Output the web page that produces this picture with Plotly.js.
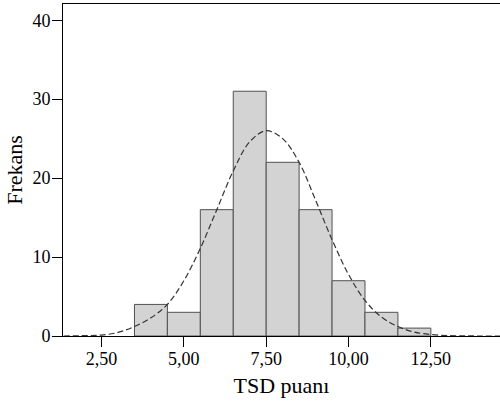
<!DOCTYPE html>
<html>
<head>
<meta charset="utf-8">
<script src="https://cdn.plot.ly/plotly-3.0.1.min.js"></script>
<style>html,body{margin:0;padding:0;background:#fff;}#chart{width:500px;height:408px;}</style>
</head>
<body>
<div id="chart"></div>
<script>
// Histogram bins (centres) and frequencies
const binCenters = [4, 5, 6, 7, 8, 9, 10, 11, 12];
const frequencies = [4, 3, 16, 31, 22, 16, 7, 3, 1];

// Fitted normal curve
const curveX = [1.35, 2.0, 2.5, 3.0, 3.5, 4.0, 4.5, 5.0, 5.5, 6.0, 6.5, 7.0, 7.5, 8.0, 8.5, 9.0, 9.5, 10.0, 10.5, 11.0, 11.5, 12.0, 12.5, 13.0, 13.5, 14.0, 14.6];
const curveY = [0.0, 0.05, 0.12, 0.45, 1.2, 2.3, 4.0, 7.0, 11.1, 16.0, 20.9, 24.6, 26.0, 25.0, 22.0, 17.2, 12.2, 7.8, 4.5, 2.4, 1.2, 0.5, 0.18, 0.06, 0.02, 0.0, 0.0];

const xTickVals = [2.5, 5, 7.5, 10, 12.5];
const xTickText = ["2,50", "5,00", "7,50", "10,00", "12,50"];
const yTickVals = [0, 10, 20, 30, 40];

const font = "'Liberation Serif', 'Times New Roman', 'DejaVu Serif', serif";

const traces = [
  {
    type: "bar",
    x: binCenters,
    y: frequencies,
    width: 1,
    marker: {color: "#d3d3d3", line: {color: "#505050", width: 1}},
    hoverinfo: "skip"
  },
  {
    type: "scatter",
    mode: "lines",
    x: curveX,
    y: curveY,
    line: {color: "#333333", width: 1.2, dash: "6px,3px", shape: "spline"},
    hoverinfo: "skip"
  }
];

const layout = {
  width: 500,
  height: 408,
  margin: {l: 63, r: 0, t: 4, b: 72, pad: 0},
  paper_bgcolor: "#ffffff",
  plot_bgcolor: "#ffffff",
  showlegend: false,
  bargap: 0,
  font: {family: font, size: 18, color: "#000"},
  xaxis: {
    range: [1.33, 14.6],
    tickvals: xTickVals,
    ticktext: xTickText,
    ticks: "outside",
    ticklen: 10,
    tickwidth: 1,
    tickcolor: "#000",
    ticklabelstandoff: -4,
    showline: true,
    linecolor: "#000",
    linewidth: 1,
    mirror: true,
    showgrid: false,
    zeroline: false,
    tickfont: {family: font, size: 18, color: "#000"},
    title: {text: "TSD puanı", font: {family: font, size: 22, color: "#000"}, standoff: 10}
  },
  yaxis: {
    range: [0, 42.05],
    tickvals: yTickVals,
    ticks: "outside",
    ticklen: 10,
    tickwidth: 1,
    tickcolor: "#000",
    ticklabelstandoff: -2,
    showline: true,
    linecolor: "#000",
    linewidth: 1,
    showgrid: false,
    zeroline: false,
    tickfont: {family: font, size: 18, color: "#000"},
    title: {text: "Frekans", font: {family: font, size: 22, color: "#000"}, standoff: 3}
  }
};

Plotly.newPlot("chart", traces, layout, {displayModeBar: false, staticPlot: true});
</script>
</body>
</html>
